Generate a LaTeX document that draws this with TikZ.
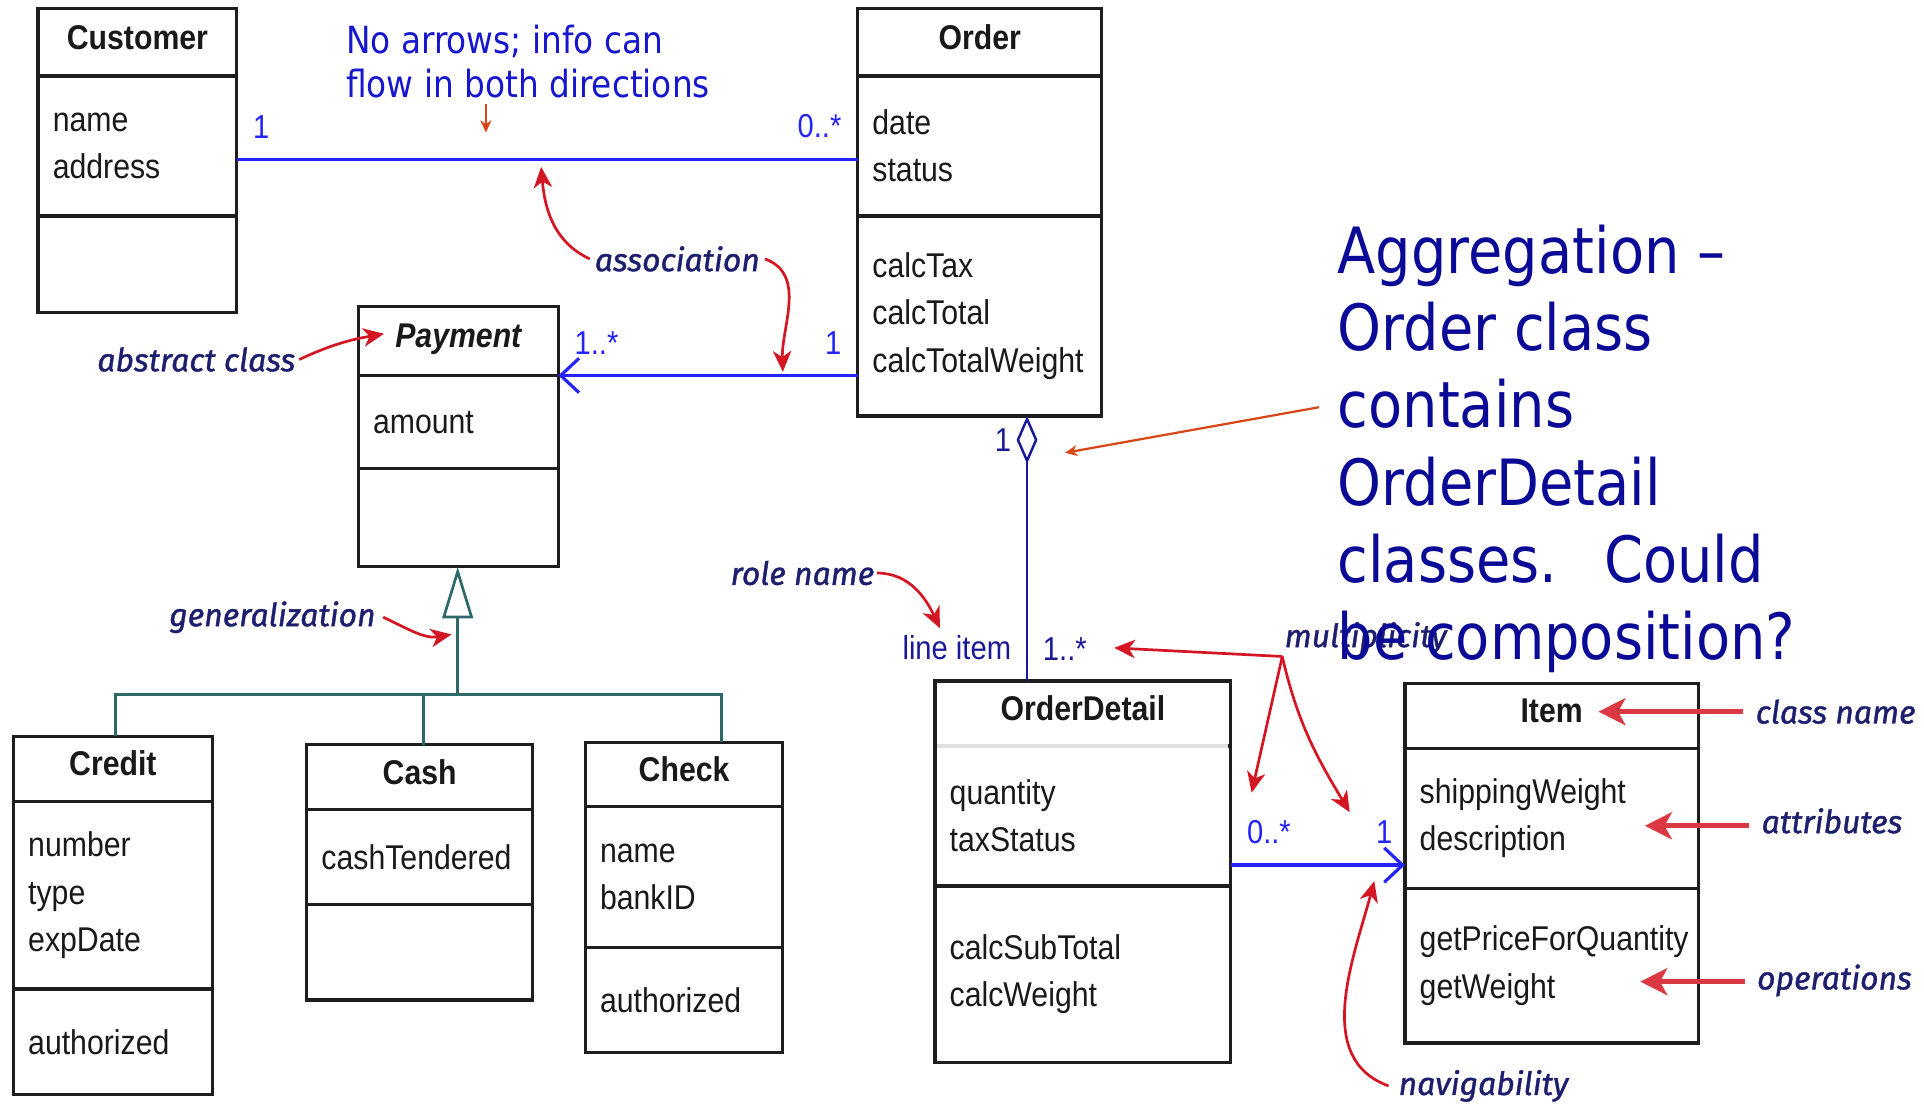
\documentclass[tikz,border=0pt]{standalone}
\usepackage{fontspec}
\usetikzlibrary{arrows.meta, positioning}
\newfontfamily\umlfont[FakeStretch=0.88]{Liberation Sans}
\newfontfamily\notefont[FakeBold=1.2]{Fira Sans}
\newfontfamily\bigfont[FakeStretch=0.875]{DejaVu Sans}
\definecolor{boxline}{RGB}{30,30,30}
\definecolor{assocblue}{RGB}{35,35,250}
\definecolor{aggrnavy}{RGB}{25,25,150}
\definecolor{genteal}{RGB}{45,105,105}
\definecolor{notered}{RGB}{212,22,35}
\definecolor{pointorange}{RGB}{215,70,20}
\definecolor{notenavy}{RGB}{30,30,110}
\definecolor{bigblue}{RGB}{10,10,150}
\definecolor{msgblue}{RGB}{22,22,205}

\begin{document}
\begin{tikzpicture}[x=1pt, y=-1pt,
    cls/.style={draw=boxline, line width=2.6pt, outer sep=0pt, inner xsep=12pt, inner ysep=0pt, text width=#1, text=black!90},
    hdr/.style={anchor=north west, align=center, font=\umlfont\bfseries\fontsize{28}{34}\selectfont, text height=21pt, text depth=10pt},
    cmp/.style={below=0pt of #1, align=left, font=\umlfont\fontsize{28}{38.5}\selectfont},
    assoc/.style={draw=assocblue, line width=2.6pt},
    navig/.style={-{Straight Barb[length=15pt, width=28pt]}},
    aggr/.style={draw=aggrnavy, line width=2pt},
    gen/.style={draw=genteal, line width=2.2pt},
    mult/.style={font=\umlfont\fontsize{27}{30}\selectfont, text=assocblue, inner xsep=12pt, inner ysep=16pt},
    note/.style={font=\notefont\itshape\fontsize{26}{30}\selectfont, text=notenavy, inner sep=0pt},
    callout/.style={draw=notered, line width=2.2pt, -{Stealth[length=17pt, width=15pt, inset=5pt]}},
    bigcallout/.style={draw=notered!85, line width=4pt, -{Stealth[length=22pt, width=22pt, inset=6pt]}},
    pointer/.style={draw=pointorange, line width=1.8pt, -{Stealth[length=10pt, width=9pt]}},
    msg/.style={font=\bigfont\fontsize{30.5}{36}\selectfont, text=msgblue, align=left, inner sep=0pt},
    bignote/.style={font=\bigfont\fontsize{52}{63}\selectfont, text=bigblue, align=left, inner sep=0pt}
  ]
\useasboundingbox (0,0) rectangle (1568,900);

% classes
\node[cls=138pt, hdr, minimum height=55] (cust) at (31,7) {Customer};
\node[cls=138pt, cmp=cust, minimum height=114] (custA) {name\\address};
\node[cls=138pt, cmp=custA, minimum height=79] (custO) {};

\node[cls=175pt, hdr, minimum height=55] (ord) at (699,7) {Order};
\node[cls=175pt, cmp=ord, minimum height=114] (ordA) {date\\status};
\node[cls=175pt, cmp=ordA, minimum height=163] (ordO) {calcTax\\calcTotal\\calcTotalWeight};

\node[cls=139pt, hdr, minimum height=56, font=\umlfont\bfseries\itshape\fontsize{28}{34}\selectfont] (pay) at (292,250) {Payment};
\node[cls=139pt, cmp=pay, minimum height=76] (payA) {amount};
\node[cls=139pt, cmp=payA, minimum height=80] (payO) {};

\node[cls=138pt, hdr, minimum height=53] (cred) at (11,600) {Credit};
\node[cls=138pt, cmp=cred, minimum height=153] (credA) {number\\type\\expDate};
\node[cls=138pt, cmp=credA, minimum height=86] (credO) {authorized};

\node[cls=160pt, hdr, minimum height=53] (cash) at (250,607) {Cash};
\node[cls=160pt, cmp=cash, minimum height=77] (cashA) {cashTendered};
\node[cls=160pt, cmp=cashA, minimum height=78] (cashO) {};

\node[cls=137pt, hdr, minimum height=52] (chk) at (477,605) {Check};
\node[cls=137pt, cmp=chk, minimum height=115] (chkA) {name\\bankID};
\node[cls=137pt, cmp=chkA, minimum height=86] (chkO) {authorized};

\node[cls=217pt, hdr, minimum height=53] (det) at (762,555) {OrderDetail};
\node[cls=217pt, cmp=det, minimum height=114] (detA) {quantity\\taxStatus};
\node[cls=217pt, cmp=detA, minimum height=144] (detO) {calcSubTotal\\calcWeight};
\draw[black!12, line width=2.6pt] ([xshift=2pt]det.south west) -- ([xshift=-2pt]det.south east);

\node[cls=215pt, hdr, minimum height=53] (item) at (1145,557) {Item};
\node[cls=215pt, cmp=item, minimum height=114] (itemA) {shippingWeight\\description};
\node[cls=215pt, cmp=itemA, minimum height=126] (itemO) {getPriceForQuantity\\getWeight};

% relationships
\draw[assoc] ([yshift=-11pt]custA.east) -- ([yshift=-11pt]custA.east -| ordA.west)
  node[mult, at start, above right] (mcust) {1}
  node[mult, at end, above left] (mord) {0..*};
\draw[assoc, navig] (pay.south east -| ordO.west) -- (pay.south east)
  node[mult, at start, above left] (mordpay) {1}
  node[mult, at end, above right] (mpay) {1..*};
\draw[aggr, {Diamond[open, length=39pt, width=17pt]}-] ([xshift=38.5pt]ordO.south) -- ([xshift=38.5pt]ordO.south |- det.north)
  node[mult, at start, below left, text=aggrnavy, inner ysep=9pt] (mwhole) {1}
  node[mult, at end, above left, text=aggrnavy] (role) {line item}
  node[mult, at end, above right, text=aggrnavy] (mdet) {1..*};
\draw[assoc, navig] ([yshift=-40pt]detA.east) -- ([yshift=-40pt]detA.east -| itemA.west)
  node[mult, at start, above right] (mzero) {0..*}
  node[mult, at end, above left, xshift=3pt] (mone) {1};

\coordinate (gjoin) at (373,566);
\draw[gen, -{Triangle[open, length=42pt, width=25pt]}] (gjoin) -- (gjoin |- payO.south);
\draw[gen] ([xshift=2pt]cred.north) |- (gjoin) -| ([xshift=30.5pt]chk.north);
\draw[gen] ([xshift=3pt]cash.north) -- ([xshift=3pt]cash.north |- gjoin);

% notes
\node[msg, anchor=north west] (flow) at (282,20) {No arrows; info can\\flow in both directions};
\draw[pointer] ([xshift=114pt, yshift=-5pt]flow.south west) -- ++(0,23);

\coordinate (assocup) at (441,136);
\coordinate (assocdown) at (638,303);
\coordinate (abstrtip) at (313,272);
\coordinate (gentip) at (368,517);
\coordinate (roletip) at (766,512);
\coordinate (aggtip) at (868,369);
\coordinate (mfork) at (1045,535);
\coordinate (mtipA) at (908,528);
\coordinate (mtipB) at (1020,646);
\coordinate (mtipC) at (1100,662);
\coordinate (navtip) at (1120,718);

\node[note] (assocnote) at (552,211) {association};
\draw[callout] ([xshift=-4pt]assocnote.west) to[out=155, in=-85] (assocup);
\draw[callout] ([xshift=4pt]assocnote.east) to[out=-20, in=92] (assocdown);

\node[note] (abstr) at (160,293) {abstract class};
\draw[callout] ([xshift=3pt]abstr.east) to[out=25, in=190] (abstrtip);

\node[note] (gennote) at (222,503) {generalization};
\draw[callout] ([xshift=6pt]gennote.east) to[out=-25, in=190] (gentip);

\node[note] (rolenote) at (654,467) {role name};
\draw[callout] ([xshift=2pt]rolenote.east) to[out=0, in=115] (roletip);

\node[note] (multnote) at (1113,520) {multiplicity};
\draw[callout] (mfork) -- (mtipA);
\draw[callout] (mfork) -- (mtipB);
\draw[callout] (mfork) to[out=-77, in=121] (mtipC);

\node[note] (cnote) at (1496,580) {class name};
\draw[bigcallout] ([xshift=-10pt]cnote.west) -- ++(-118,0);
\node[note] (attrnote) at (1493,669) {attributes};
\draw[bigcallout] ([xshift=-10pt, yshift=-4pt]attrnote.west) -- ++(-85,0);
\node[note] (opnote) at (1495,799) {operations};
\draw[bigcallout] ([xshift=-10pt, yshift=-1pt]opnote.west) -- ++(-85,0);

\node[note] (navnote) at (1209,885) {navigability};
\draw[callout] ([xshift=-8pt]navnote.west) to[out=160, in=-105] (navtip);

\node[bignote, anchor=north west] (aggnote) at (1090,183) {Aggregation –\\Order class\\contains\\OrderDetail\\classes.\hspace{38pt}Could\\be composition?};
\draw[pointer] ([xshift=-15pt, yshift=34pt]aggnote.west) -- (aggtip);

\end{tikzpicture}
\end{document}
